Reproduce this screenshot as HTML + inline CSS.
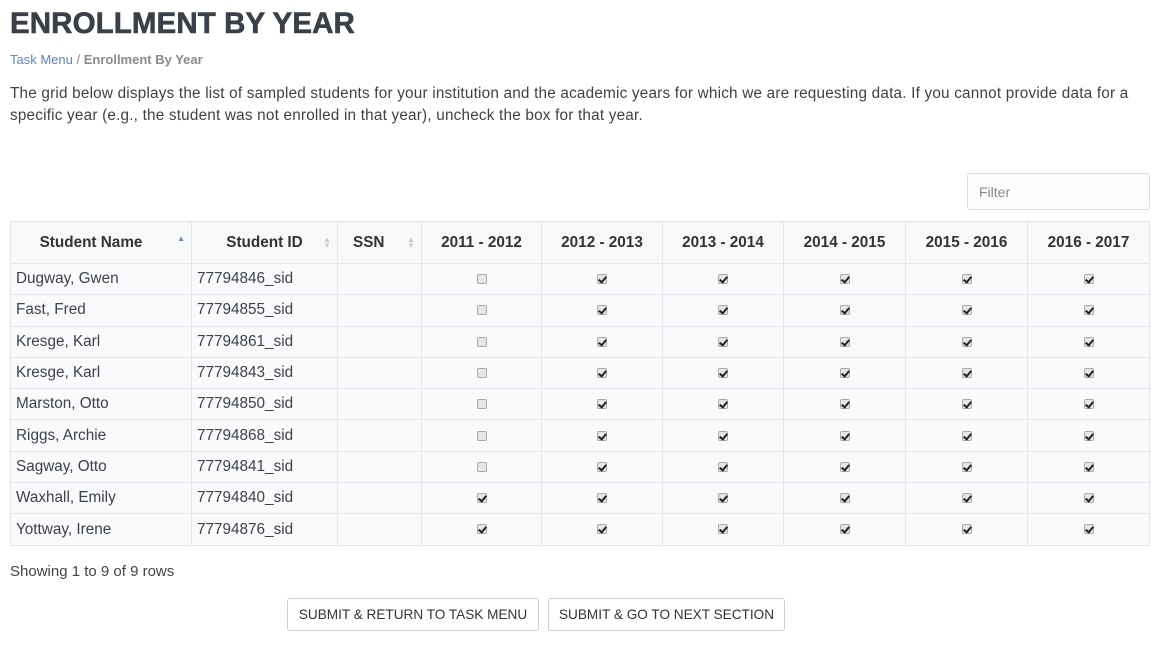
<!DOCTYPE html>
<html><head><meta charset="utf-8"><style>
*{box-sizing:border-box}
body{margin:0;width:1161px;height:645px;background:#fff;font-family:"Liberation Sans",sans-serif;color:#3b3f44;position:relative;overflow:hidden}
h1{position:absolute;left:10px;top:7px;margin:0;font-size:29.5px;font-weight:bold;color:#3a4047;letter-spacing:0.1px;-webkit-text-stroke:0.6px #3a4047}
.bc{position:absolute;left:10px;top:52px;font-size:13px;color:#888}
.bc a{color:#5b86c5;text-decoration:none}
.bc b{color:#8a8a8a}
.desc{position:absolute;left:10px;top:83px;width:1140px;font-size:15.3px;line-height:22px;color:#3e4247;letter-spacing:0.2px}
.filter{position:absolute;left:967px;top:173px;width:183px;height:37px;border:1px solid #ddd;border-radius:3px;background:#fbfcfd;font-size:14px;color:#888;padding:10px 0 0 11px}
table{position:absolute;left:10px;top:221px;width:1140px;border-collapse:collapse;border:1px solid #dfe3e8;font-size:15.3px}
th,td{border:1px solid #e3e6ea;padding:0 5px}
th{height:42px;background:#f7f8fa;font-weight:bold;color:#333;text-align:center;position:relative}
td{height:31.3px;background:#f9fafb;color:#3e4247}
td.c{text-align:center}
.s{position:absolute;right:6px;top:15px;font-size:8px;line-height:6px;color:#ccc}
.cb{display:inline-block;width:10px;height:10px;border:1px solid #aaa;border-radius:2px;background:#e6e6e6;vertical-align:middle;position:relative}
.cb.k::after{content:"";position:absolute;left:2px;top:0px;width:3px;height:6px;border:solid #222;border-width:0 2px 2px 0;transform:rotate(40deg)}
.show{position:absolute;left:10px;top:563px;font-size:15px;color:#444}
.btn{position:absolute;top:598px;height:33px;border:1px solid #ccc;border-radius:3px;background:#fff;font-size:13.6px;color:#333;text-align:center;line-height:31px}
</style></head><body>
<h1>ENROLLMENT BY YEAR</h1>
<div class="bc"><a>Task Menu</a> / <b>Enrollment By Year</b></div>
<div class="desc">The grid below displays the list of sampled students for your institution and the academic years for which we are requesting data. If you cannot provide data for a specific year (e.g., the student was not enrolled in that year), uncheck the box for that year.</div>
<div class="filter">Filter</div>
<table>
<tr><th style="width:181px;padding-right:25px">Student Name<span class="s" style="color:#6b7fd0;top:14px">▲</span></th><th style="width:146px">Student ID<span class="s">▲<br>▼</span></th><th style="width:84px;text-align:left;padding-left:15px">SSN<span class="s">▲<br>▼</span></th><th style="width:120px">2011 - 2012</th><th style="width:121px">2012 - 2013</th><th style="width:121px">2013 - 2014</th><th style="width:122px">2014 - 2015</th><th style="width:122px">2015 - 2016</th><th>2016 - 2017</th></tr>
<tr><td>Dugway, Gwen</td><td>77794846_sid</td><td></td><td class="c"><i class="cb"></i></td><td class="c"><i class="cb k"></i></td><td class="c"><i class="cb k"></i></td><td class="c"><i class="cb k"></i></td><td class="c"><i class="cb k"></i></td><td class="c"><i class="cb k"></i></td></tr>
<tr><td>Fast, Fred</td><td>77794855_sid</td><td></td><td class="c"><i class="cb"></i></td><td class="c"><i class="cb k"></i></td><td class="c"><i class="cb k"></i></td><td class="c"><i class="cb k"></i></td><td class="c"><i class="cb k"></i></td><td class="c"><i class="cb k"></i></td></tr>
<tr><td>Kresge, Karl</td><td>77794861_sid</td><td></td><td class="c"><i class="cb"></i></td><td class="c"><i class="cb k"></i></td><td class="c"><i class="cb k"></i></td><td class="c"><i class="cb k"></i></td><td class="c"><i class="cb k"></i></td><td class="c"><i class="cb k"></i></td></tr>
<tr><td>Kresge, Karl</td><td>77794843_sid</td><td></td><td class="c"><i class="cb"></i></td><td class="c"><i class="cb k"></i></td><td class="c"><i class="cb k"></i></td><td class="c"><i class="cb k"></i></td><td class="c"><i class="cb k"></i></td><td class="c"><i class="cb k"></i></td></tr>
<tr><td>Marston, Otto</td><td>77794850_sid</td><td></td><td class="c"><i class="cb"></i></td><td class="c"><i class="cb k"></i></td><td class="c"><i class="cb k"></i></td><td class="c"><i class="cb k"></i></td><td class="c"><i class="cb k"></i></td><td class="c"><i class="cb k"></i></td></tr>
<tr><td>Riggs, Archie</td><td>77794868_sid</td><td></td><td class="c"><i class="cb"></i></td><td class="c"><i class="cb k"></i></td><td class="c"><i class="cb k"></i></td><td class="c"><i class="cb k"></i></td><td class="c"><i class="cb k"></i></td><td class="c"><i class="cb k"></i></td></tr>
<tr><td>Sagway, Otto</td><td>77794841_sid</td><td></td><td class="c"><i class="cb"></i></td><td class="c"><i class="cb k"></i></td><td class="c"><i class="cb k"></i></td><td class="c"><i class="cb k"></i></td><td class="c"><i class="cb k"></i></td><td class="c"><i class="cb k"></i></td></tr>
<tr><td>Waxhall, Emily</td><td>77794840_sid</td><td></td><td class="c"><i class="cb k"></i></td><td class="c"><i class="cb k"></i></td><td class="c"><i class="cb k"></i></td><td class="c"><i class="cb k"></i></td><td class="c"><i class="cb k"></i></td><td class="c"><i class="cb k"></i></td></tr>
<tr><td>Yottway, Irene</td><td>77794876_sid</td><td></td><td class="c"><i class="cb k"></i></td><td class="c"><i class="cb k"></i></td><td class="c"><i class="cb k"></i></td><td class="c"><i class="cb k"></i></td><td class="c"><i class="cb k"></i></td><td class="c"><i class="cb k"></i></td></tr>
</table>
<div class="show">Showing 1 to 9 of 9 rows</div>
<div class="btn" style="left:287px;width:252px">SUBMIT &amp; RETURN TO TASK MENU</div>
<div class="btn" style="left:548px;width:237px">SUBMIT &amp; GO TO NEXT SECTION</div>
</body></html>
